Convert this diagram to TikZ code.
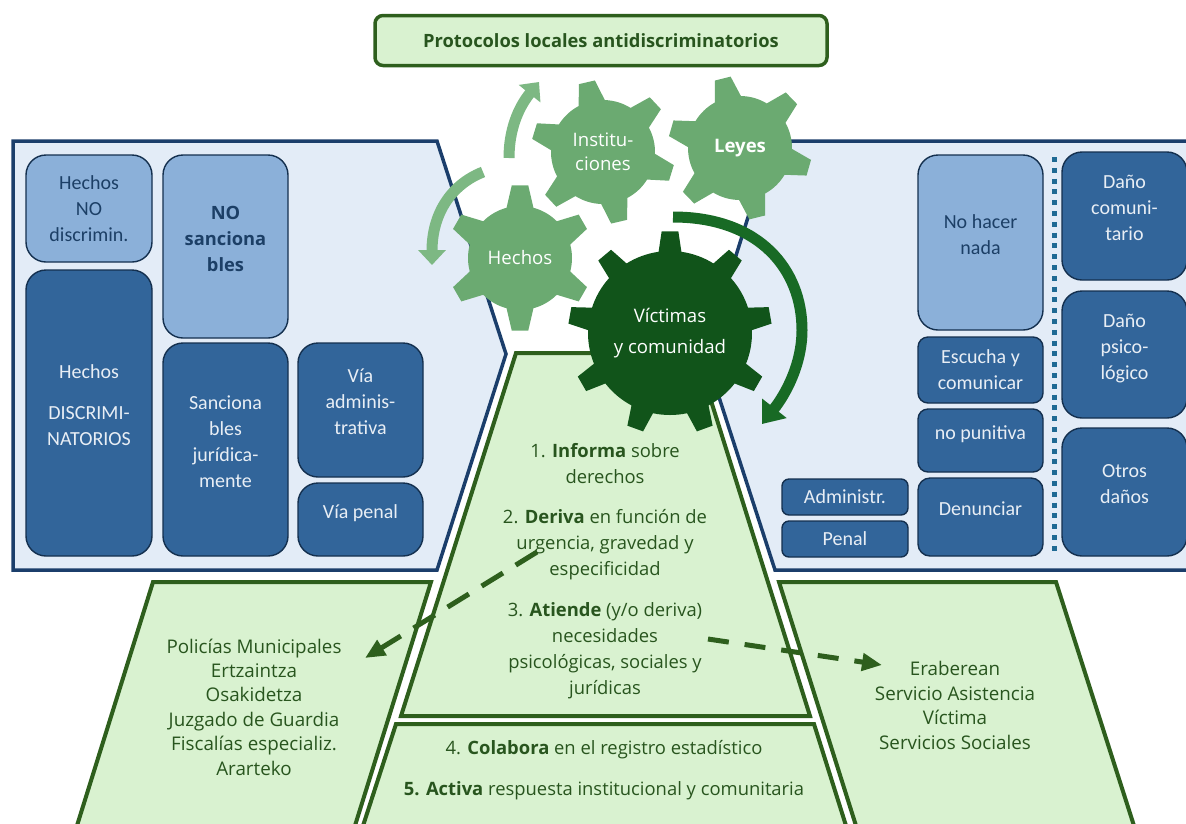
\documentclass[tikz,border=0pt]{standalone}
\usepackage{fontspec}
\setmainfont{Open Sans}
\newfontfamily\boxfont{Carlito}
\usetikzlibrary{arrows.meta,positioning}
\definecolor{panelblue}{HTML}{E3ECF7}
\definecolor{panelline}{HTML}{1B3E6B}
\definecolor{boxdark}{HTML}{32659A}
\definecolor{boxlight}{HTML}{8BB0D9}
\definecolor{boxline}{HTML}{14304F}
\definecolor{inkblue}{HTML}{1C3F66}
\definecolor{paleblue}{HTML}{E8EEF5}
\definecolor{palegreen}{HTML}{D9F2D0}
\definecolor{trapline}{HTML}{2E5F1D}
\definecolor{inkgreen}{HTML}{28551E}
\definecolor{gearlight}{HTML}{6BAA71}
\definecolor{geardark}{HTML}{11541A}
\definecolor{arrowlight}{HTML}{7DB883}
\definecolor{arrowdark}{HTML}{186A25}
\definecolor{dotline}{HTML}{1F6A94}
\tikzset{
  panel/.style={draw=panelline, fill=panelblue, line width=3.5pt, miter limit=10},
  trap/.style={draw=trapline, fill=palegreen, line width=4pt},
  anybox/.style={draw=boxline, line width=1.4pt, rounded corners=20pt, inner sep=0pt, outer sep=0pt, align=center, font=\boxfont\fontsize{20}{26}\selectfont},
  darkbox/.style={anybox, fill=boxdark, text=paleblue},
  lightbox/.style={anybox, fill=boxlight, text=inkblue},
  boldbox/.style={lightbox, font=\fontsize{18.3}{26}\selectfont\bfseries},
  smallbox/.style={darkbox, rounded corners=10pt},
  titlebox/.style={draw=trapline, fill=palegreen, line width=3.5pt, rounded corners=8pt, text=inkgreen, font=\fontsize{18.3}{24}\selectfont\bfseries},
  greentext/.style={text=inkgreen, align=center, font=\fontsize{18.4}{26}\selectfont},
  listtext/.style={greentext, font=\fontsize{18.8}{24.4}\selectfont},
  geartext/.style={text=white, align=center, font=\fontsize{18.6}{31}\selectfont},
  turnlight/.style={draw=arrowlight, line width=11pt, -{Triangle[width=27pt,length=15pt]}},
  turndark/.style={draw=arrowdark, line width=11pt, -{Triangle[width=30pt,length=20pt]}},
  derive/.style={draw=trapline, line width=5pt, dash pattern=on 21pt off 16pt, -{Triangle[width=17pt,length=20pt]}}
}
% style, x, y, inner r, outer r, teeth, turn, base half angle, tip half angle
\newcommand{\gear}[9]{
  \begin{scope}[shift={(#2,#3)},rotate=#7]
    \pgfmathsetmacro{\gearstep}{360/#6}
    \fill[#1] (-#8:#4) foreach \i in {1,...,#6} {
      -- ({(\i-1)*\gearstep-#9}:#5) -- ({(\i-1)*\gearstep+#9}:#5) -- ({(\i-1)*\gearstep+#8}:#4)
      arc[start angle={(\i-1)*\gearstep+#8}, delta angle={\gearstep-2*#8}, radius=#4]
    } -- cycle;
  \end{scope}
}
\newcommand{\lift}{\\[-10pt]\rule{0pt}{1pt}}

\begin{document}
\begin{tikzpicture}[x=1pt, y=1pt]
  \useasboundingbox (0,0) rectangle (1186,-823);

  % panels
  \draw[panel] (13,-141) -- (437,-141) -- (506,-354) -- (437,-570) -- (13,-570) -- cycle;
  \draw[panel] (1195,-141) -- (772,-141) -- (705,-354) -- (775,-570) -- (1195,-570);

  % left boxes
  \node[lightbox, minimum width=126pt, minimum height=107pt] (hechosNo) at (89,-208.5) {Hechos\\NO\\discrimin.};
  \node[darkbox, minimum width=126pt, minimum height=286pt] (discrim) [below=8pt of hechosNo] {Hechos\\[15pt]DISCRIMI-\\NATORIOS\lift};
  \node[boldbox, minimum width=125pt, minimum height=183pt] (noSancion) at (225.5,-246.5) {NO\\sanciona\\bles\lift};
  \node[darkbox, minimum width=125pt, minimum height=213pt] (sancion) [below=5pt of noSancion] {Sanciona\\bles\\jurídica-\\mente\lift};
  \node[darkbox, minimum width=125pt, minimum height=134pt] (viaAdmin) at (360.5,-410) {Vía\\adminis-\\trativa\lift};
  \node[darkbox, minimum width=125pt, minimum height=73pt] (viaPenal) [below=6pt of viaAdmin] {Vía penal\lift};

  % right boxes
  \node[lightbox, minimum width=125pt, minimum height=175pt] (noHacer) at (980.5,-242.5) {No hacer\\nada\lift};
  \node[smallbox, minimum width=125pt, minimum height=66pt] (escucha) [below=7pt of noHacer] {Escucha y\\comunicar};
  \node[smallbox, minimum width=125pt, minimum height=63pt] (noPunitiva) [below=6pt of escucha] {no punitiva\lift};
  \node[darkbox, rounded corners=12pt, minimum width=125pt, minimum height=78pt] (denunciar) [below=6pt of noPunitiva] {Denunciar\lift};
  \node[smallbox, rounded corners=7pt, minimum width=126pt, minimum height=36pt] (administr) at (845,-497) {\raisebox{-8pt}{Administr.}};
  \node[smallbox, rounded corners=7pt, minimum width=126pt, minimum height=36pt] (penal) [below=6pt of administr] {\raisebox{-10pt}{Penal}};
  \node[darkbox, minimum width=125pt, minimum height=128pt] (danoCom) at (1124.5,-216) {Daño\\comuni-\\tario\lift};
  \node[darkbox, minimum width=125pt, minimum height=127pt] (danoPsi) [below=11pt of danoCom] {Daño\\psico-\\lógico\lift};
  \node[darkbox, minimum width=125pt, minimum height=128pt] (otros) [below=10pt of danoPsi] {Otros\\daños\lift};
  \coordinate (dotTop) at (1054,-157);
  \coordinate (dotEnd) at (1054,-554);
  \draw[dotline, line width=5pt, dash pattern=on 5pt off 5.8pt] (dotTop) -- (dotEnd);

  % green trapezoids
  \draw[trap] (516,-353) -- (696,-353) -- (810,-716) -- (401,-716) -- cycle;
  \draw[trap] (396,-724) -- (814,-724) -- (848,-832) -- (361,-832) -- cycle;
  \draw[trap] (153,-582) -- (431,-582) -- (353,-832) -- (75,-832) -- cycle;
  \draw[trap] (779,-582) -- (1056,-582) -- (1136,-832) -- (858,-832) -- cycle;

  % texts in the trapezoids
  \node[greentext] (informa) at (605,-464) {1. \textbf{Informa} sobre\\derechos};
  \node[greentext] (deriva) at (605,-544.5) {2. \textbf{Deriva} en función de\\urgencia, gravedad y\\especificidad};
  \node[greentext] (atiende) at (605,-650.5) {3. \textbf{Atiende} (y/o deriva)\\necesidades\\psicológicas, sociales y\\jurídicas};
  \node[greentext] (colabora) at (604,-749.5) {4. \textbf{Colabora} en el registro estadístico};
  \node[greentext] (activa) at (604,-790.5) {\textbf{5. Activa} respuesta institucional y comunitaria};
  \node[listtext] (agentes) at (254,-707) {Policías Municipales\\Ertzaintza\\Osakidetza\\Juzgado de Guardia\\Fiscalías especializ.\\Ararteko};
  \node[listtext] (servicios) at (955,-705.5) {Eraberean\\Servicio Asistencia\\Víctima\\Servicios Sociales};

  % title
  \node[titlebox, minimum width=452pt, minimum height=50pt] (protocolos) at (601,-40.5) {Protocolos locales antidiscriminatorios};

  % gears
  \gear{gearlight}{520}{-258}{52}{73}{6}{90}{15}{6.5}
  \gear{gearlight}{603}{-152}{52}{72}{6}{103}{15}{6.5}
  \gear{gearlight}{740}{-148}{52}{72}{6}{104}{15}{6.5}
  \gear{geardark}{670}{-333}{82}{102}{9}{90}{8}{4.7}
  \node[geartext] (hechos) at (520,-258) {Hechos};
  \node[geartext, font=\fontsize{18.6}{24}\selectfont] (instituciones) at (603,-152) {Institu-\\ciones};
  \node[geartext, font=\fontsize{18.6}{24}\selectfont\bfseries] (leyes) at (740,-148) {Leyes};
  \node[geartext] (victimas) at (670,-333) {Víctimas\\y comunidad};

  % turning arrows
  \coordinate (upStart) at (509,-158);
  \coordinate (upEnd) at (539,-82);
  \coordinate (downStart) at (483,-172);
  \coordinate (downEnd) at (432,-265);
  \coordinate (bigStart) at (673,-217);
  \coordinate (bigMid) at (802,-330);
  \coordinate (bigEnd) at (762,-424);
  \draw[turnlight] (upStart) .. controls (509,-130) and (518,-108) .. (upEnd);
  \draw[turnlight] (downStart) .. controls (450,-185) and (432,-215) .. (downEnd);
  \draw[turndark] (bigStart) .. controls (760,-217) and (802,-270) .. (bigMid) .. controls (802,-365) and (785,-395) .. (bigEnd);

  % dashed arrows
  \coordinate (leftStart) at (537,-552);
  \coordinate (leftEnd) at (365,-658);
  \coordinate (rightStart) at (708,-639);
  \coordinate (rightEnd) at (882,-665);
  \draw[derive, dash pattern=on 25pt off 15pt] (leftStart) -- (leftEnd);
  \draw[derive] (rightStart) -- (rightEnd);
\end{tikzpicture}
\end{document}
